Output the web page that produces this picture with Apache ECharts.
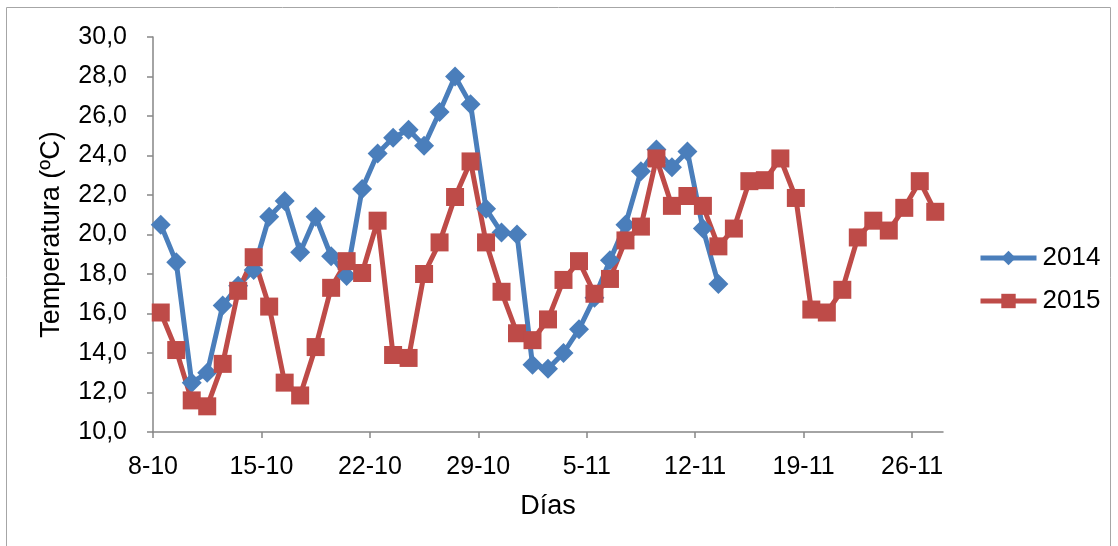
<!DOCTYPE html>
<html>
<head>
<meta charset="utf-8">
<script src="https://cdn.jsdelivr.net/npm/echarts@6/dist/echarts.min.js"></script>
<style>
html, body { margin: 0; padding: 0; background: #fff; }
#chart { width: 1118px; height: 546px; }
</style>
</head>
<body>
<div id="chart"></div>
<script>
// dias 8-10 .. 27-11 (un punto por dia)
var dias = [];
// etiquetas del eje: limites entre dias, 8-10 .. 28-11
var limites = [];

var t2014 = [20.5, 18.6, 12.5, 13.0, 16.4, 17.4, 18.2, 20.9, 21.7, 19.1,
    20.9, 18.9, 17.9, 22.3, 24.1, 24.9, 25.3, 24.5, 26.2, 28.0,
    26.6, 21.3, 20.1, 20.0, 13.4, 13.2, 14.0, 15.2, 16.8, 18.7,
    20.5, 23.2, 24.3, 23.4, 24.2, 20.3, 17.5];

var t2015 = [16.05, 14.15, 11.6, 11.3, 13.45, 17.15, 18.85, 16.35, 12.5, 11.85,
    14.3, 17.3, 18.65, 18.05, 20.7, 13.9, 13.75, 18.0, 19.6, 21.9,
    23.7, 19.6, 17.1, 15.0, 14.65, 15.7, 17.7, 18.65, 17.0, 17.75,
    19.7, 20.4, 23.85, 21.45, 21.95, 21.45, 19.4, 20.3, 22.7, 22.75,
    23.85, 21.85, 16.2, 16.05, 17.2, 19.85, 20.7, 20.2, 21.35, 22.7,
    21.15];

function buildDays() {
    var d = 8, m = 10;
    for (var i = 0; i < 52; i++) {
        var txt = d + "-" + m;
        limites.push(txt);
        if (i < 51) {
            dias.push(txt);
        }
        d++;
        if (m == 10 && d > 31) {
            d = 1;
            m = 11;
        }
    }
}

function fmt(v) {
    return v.toFixed(1).replace(".", ",");
}

function drawChart() {
    buildDays();
    var myChart = echarts.init(document.getElementById('chart'));
    var gris = '#868686';
    var fuente = 'Liberation Sans, Arial, sans-serif';

    var option = {
        animation: false,
        backgroundColor: '#fff',
        graphic: [{
            type: 'rect',
            shape: { x: 6.5, y: 7.5, width: 1104, height: 560 },
            style: { fill: 'none', stroke: '#a6a6a6', lineWidth: 1 }
        }],
        grid: { left: 153, top: 37, width: 790, height: 395, containLabel: false },
        legend: {
            orient: 'vertical',
            left: 973,
            top: 240,
            itemWidth: 56,
            itemHeight: 18,
            itemGap: 17,
            lineStyle: { width: 5 },
            textStyle: { fontSize: 26, color: '#000', fontFamily: fuente, padding: [0, 0, 0, 1] },
            data: ['2014', '2015']
        },
        xAxis: [{
            // eje de los datos, puntos en el centro de cada dia
            type: 'category',
            data: dias,
            boundaryGap: true,
            axisLine: { lineStyle: { color: gris, width: 1.5 } },
            axisTick: { show: false },
            axisLabel: { show: false },
            splitLine: { show: false }
        }, {
            // eje de las etiquetas, marcas cada 7 dias
            type: 'category',
            data: limites,
            boundaryGap: false,
            position: 'bottom',
            axisLine: { show: false },
            axisTick: { show: true, interval: 6, length: 6, lineStyle: { color: gris, width: 1.5 } },
            axisLabel: { interval: 6, fontSize: 25, color: '#000', fontFamily: fuente, margin: 23 },
            name: 'Días',
            nameLocation: 'middle',
            nameGap: 61,
            nameTextStyle: { fontSize: 27, color: '#000', fontFamily: fuente },
            splitLine: { show: false }
        }],
        yAxis: {
            type: 'value',
            min: 10,
            max: 30,
            interval: 2,
            axisLine: { show: true, lineStyle: { color: gris, width: 1.5 } },
            axisTick: { show: true, length: 6, lineStyle: { color: gris, width: 1.5 } },
            axisLabel: { fontSize: 25, color: '#000', fontFamily: fuente, margin: 26, formatter: fmt },
            splitLine: { show: false },
            name: 'Temperatura (ºC)',
            nameLocation: 'middle',
            nameRotate: 90,
            nameGap: 88,
            nameTextStyle: { fontSize: 27, color: '#000', fontFamily: fuente }
        },
        series: [{
            name: '2014',
            type: 'line',
            xAxisIndex: 0,
            data: t2014,
            symbol: 'diamond',
            symbolSize: 20,
            showSymbol: true,
            showAllSymbol: true,
            itemStyle: { color: '#4A7EBB' },
            lineStyle: { color: '#4A7EBB', width: 5 }
        }, {
            name: '2015',
            type: 'line',
            xAxisIndex: 0,
            data: t2015,
            symbol: 'rect',
            symbolSize: 18,
            showSymbol: true,
            showAllSymbol: true,
            itemStyle: { color: '#BE4B48' },
            lineStyle: { color: '#BE4B48', width: 5 }
        }]
    };

    myChart.setOption(option);
}

drawChart();
</script>
</body>
</html>
